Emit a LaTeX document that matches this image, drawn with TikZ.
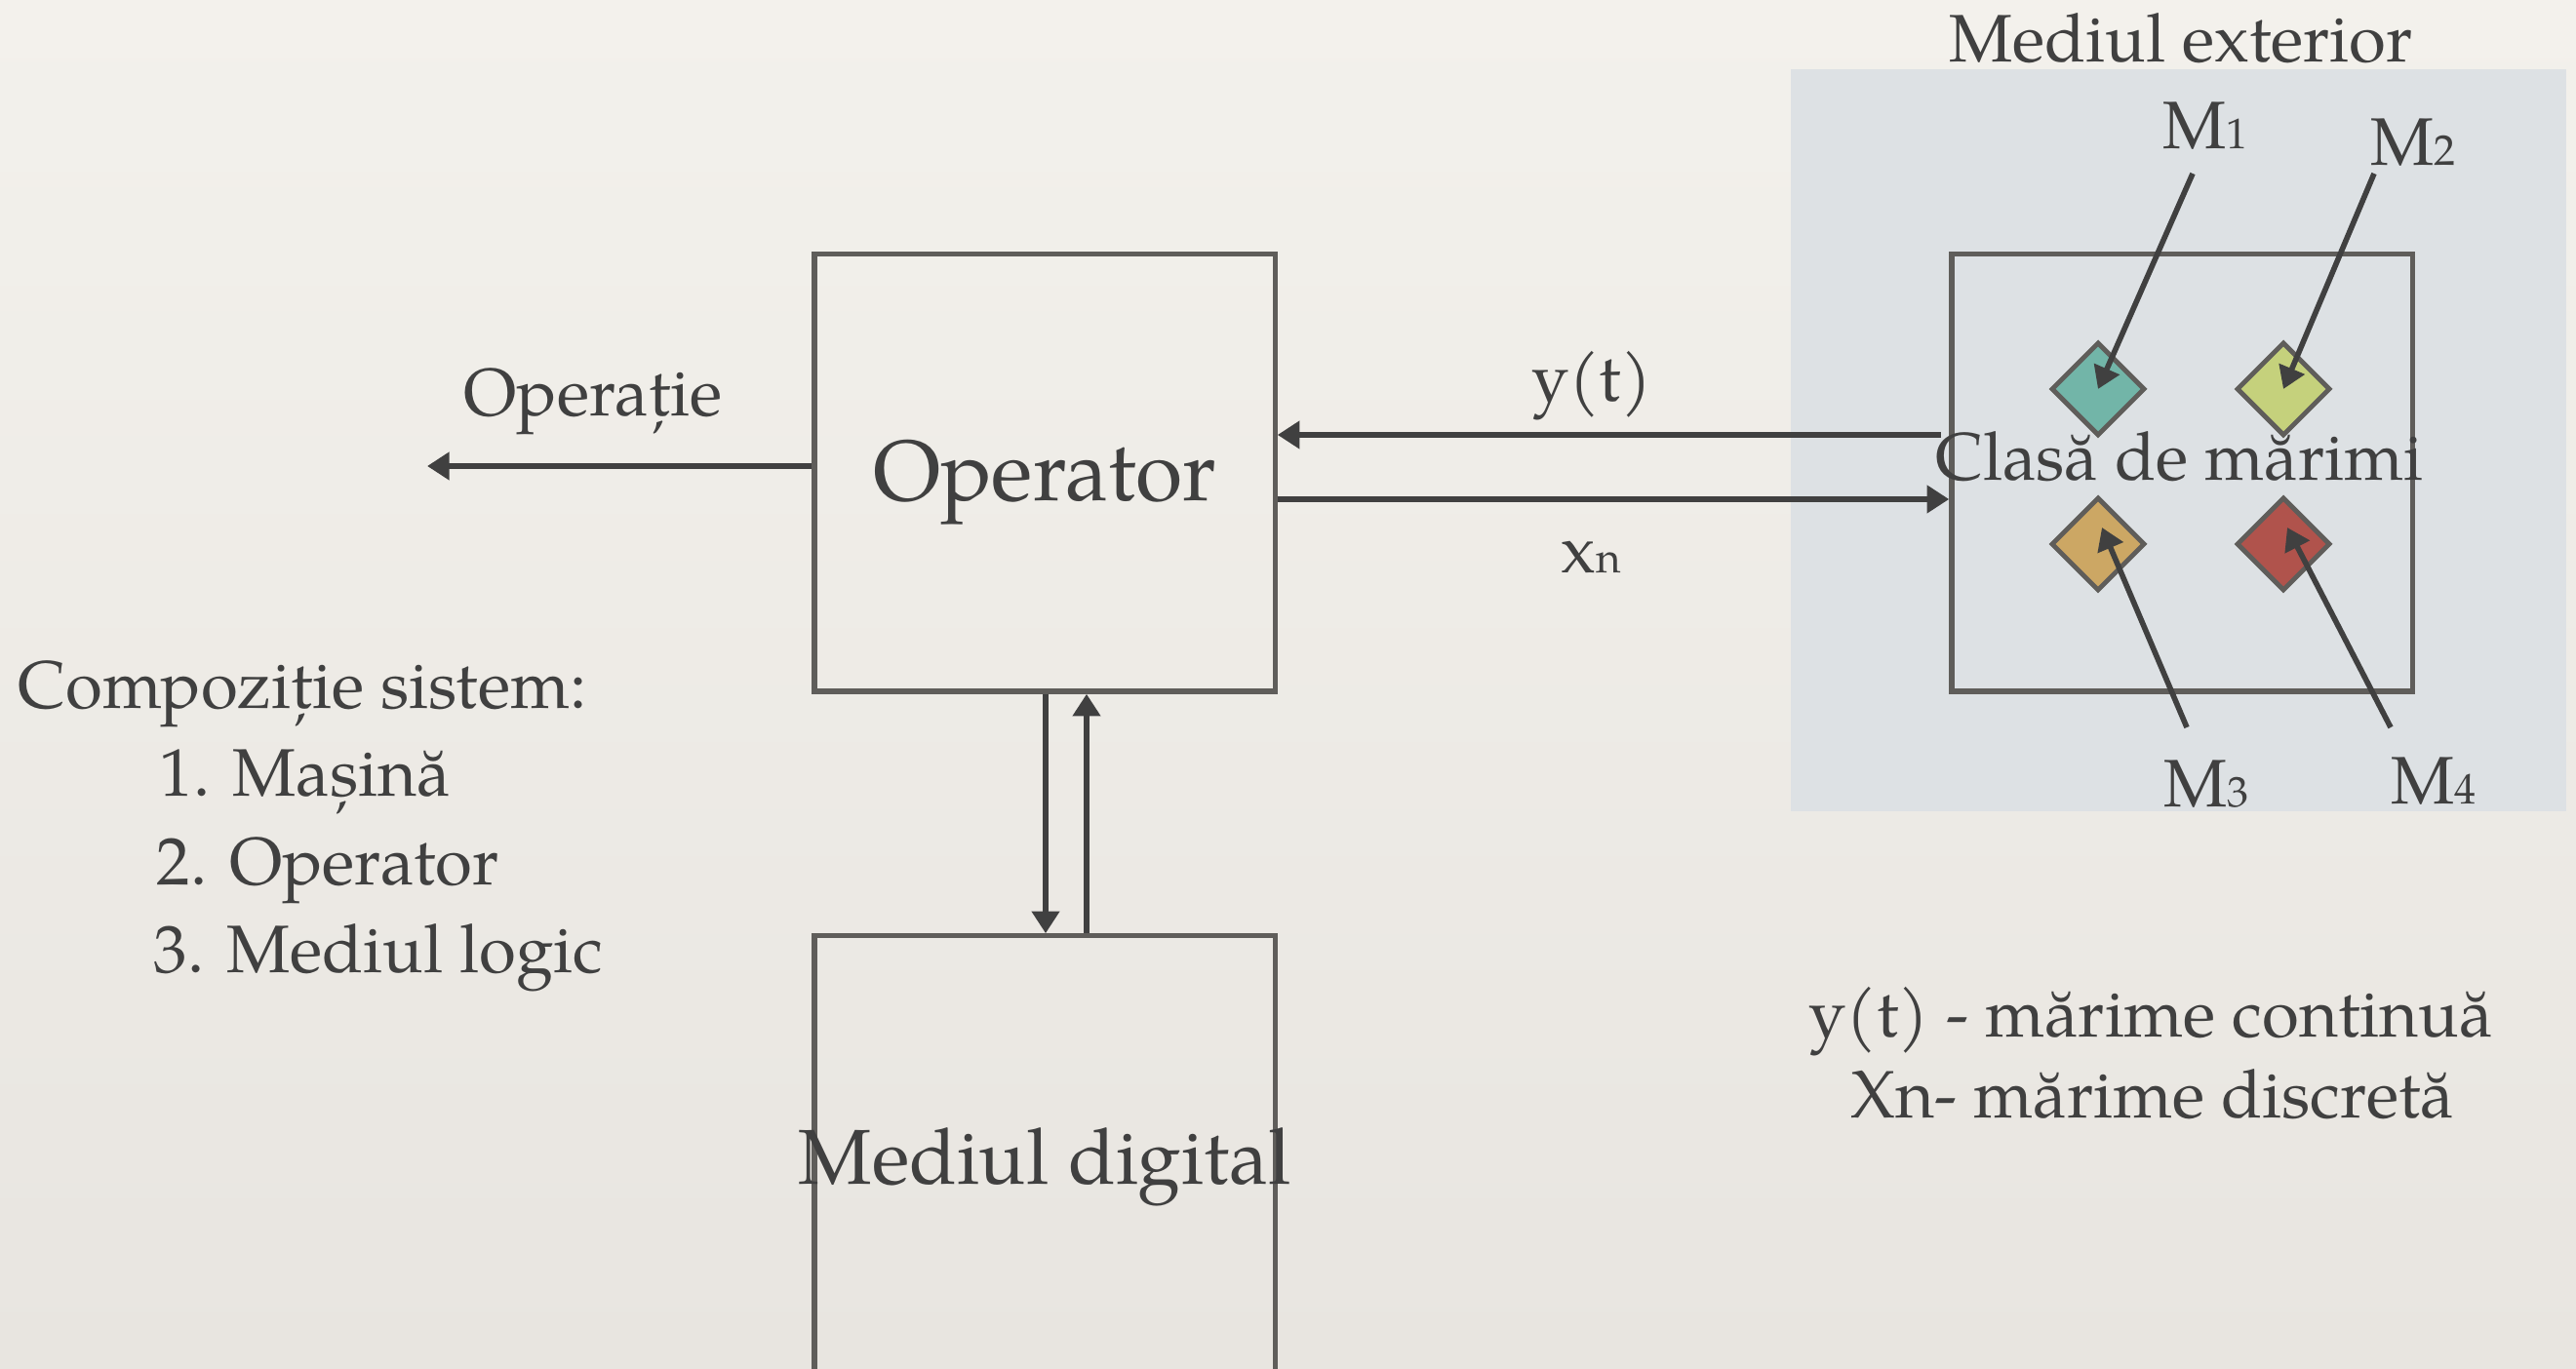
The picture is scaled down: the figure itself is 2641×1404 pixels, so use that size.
\documentclass[tikz,border=0pt]{standalone}
\usepackage{fontspec}
\setmainfont{TeX Gyre Pagella}
\usetikzlibrary{arrows.meta,shapes.geometric}

\definecolor{paperTop}{HTML}{F3F1EC}
\definecolor{paperBottom}{HTML}{E8E5E0}
\definecolor{panelBlue}{HTML}{DDE1E4}
\definecolor{ink}{HTML}{404040}
\definecolor{frameGray}{HTML}{5F5D5A}
\definecolor{gemTeal}{HTML}{72B5A8}
\definecolor{gemLime}{HTML}{C5D17C}
\definecolor{gemTan}{HTML}{CCA764}
\definecolor{gemRed}{HTML}{B0534C}

\newcommand\txtbase{\fontsize{19.6pt}{23pt}\selectfont}
\newcommand\subsz[1]{{\fontsize{12.5pt}{14pt}\selectfont #1}}

\tikzset{
  blockbox/.style={draw=frameGray, line width=1.5pt, minimum width=4.72cm, inner sep=0pt},
  lbl/.style={text=ink, inner sep=0pt, font=\txtbase},
  arr/.style={draw=ink, line width=1.6pt, -{Triangle[length=6.4pt,width=7.8pt]}},
  gem/.style={diamond, draw=frameGray, line width=1.4pt, inner sep=0pt,
              minimum width=0.96cm, minimum height=0.96cm, aspect=1},
}

\begin{document}
\begin{tikzpicture}[x=0.01cm, y=-0.01cm]
  % paper background and the outer-environment panel
  \shade[top color=paperTop, bottom color=paperBottom] (0,0) rectangle (2641,1404);
  \useasboundingbox (0,0) rectangle (2641,1404);
  \fill[panelBlue] (1836,71) rectangle (2631,832);

  % main blocks
  \node[blockbox, minimum height=4.48cm] (opbox) at (1071,485) {};
  \node[blockbox, minimum height=5.40cm] (digbox) at (1071,1230) {};
  \node[blockbox, minimum height=4.48cm] (clsbox) at (2237,485) {};

  \node[lbl, anchor=base, font=\fontsize{25pt}{28pt}\selectfont] (optext) at (1071,514) {Operator};
  \node[lbl, anchor=base, font=\fontsize{22.7pt}{26pt}\selectfont] (digtext) at (1071,1215) {Mediul digital};
  \node[lbl, anchor=base] (clstext) at (2234,493) {Clasă de mărimi};
  \node[lbl, anchor=base] (exttext) at (2236,64) {Mediul exterior};

  % output operation
  \coordinate (opout) at (438,478);
  \node[lbl, anchor=base] (optlabel) at (608,427) {Operație};
  \draw[arr] (opbox.west |- opout) -- (opout);

  % exchange with the digital environment
  \draw[arr] (opbox.south -| 1072,0) -- (digbox.north -| 1072,0);
  \draw[arr] (digbox.north -| 1114,0) -- (opbox.south -| 1114,0);

  % exchange with the class of quantities
  \coordinate (ytstart) at (1990,446);
  \draw[arr] (ytstart) -- (opbox.east |- ytstart);
  \coordinate (xnrow) at (1500,512);
  \draw[arr] (opbox.east |- xnrow) -- (clsbox.west |- xnrow);
  \node[lbl, anchor=base] (ytlabel) at (1632,412) {y(t)};
  \node[lbl, anchor=base] (xnlabel) at (1631,588) {x\subsz{n}};

  % the four quantities
  \node[gem, fill=gemTeal] (m1) at (2151,399) {};
  \node[gem, fill=gemLime] (m2) at (2341,399) {};
  \node[gem, fill=gemTan]  (m3) at (2151,558) {};
  \node[gem, fill=gemRed]  (m4) at (2341,558) {};

  \node[lbl, anchor=base west] (m1lbl) at (2217,153) {M\subsz{1}};
  \node[lbl, anchor=base west] (m2lbl) at (2430,170) {M\subsz{2}};
  \node[lbl, anchor=base west] (m3lbl) at (2218,828) {M\subsz{3}};
  \node[lbl, anchor=base west] (m4lbl) at (2451,825) {M\subsz{4}};

  \coordinate (m1tail) at (2248,178);
  \coordinate (m2tail) at (2434,178);
  \coordinate (m3tail) at (2242,746);
  \coordinate (m4tail) at (2451,746);
  \coordinate (m3tip) at (2155,541);
  \coordinate (m4tip) at (2345,541);
  \draw[arr] (m1tail) -- (m1.center);
  \draw[arr] (m2tail) -- (m2.center);
  \draw[arr] (m3tail) -- (m3tip);
  \draw[arr] (m4tail) -- (m4tip);

  % system composition list
  \node[lbl, anchor=base west] (comphead) at (18,727) {Compoziție sistem:};
  \node[lbl, anchor=base west] (comp1) at (163,817) {1. Mașină};
  \node[lbl, anchor=base west] (comp2) at (160,908) {2. Operator};
  \node[lbl, anchor=base west] (comp3) at (157,998) {3. Mediul logic};

  % legend
  \node[lbl, anchor=base] (legcont) at (2205,1064) {y(t) - mărime continuă};
  \node[lbl, anchor=base] (legdisc) at (2207,1147) {Xn- mărime discretă};
\end{tikzpicture}
\end{document}
